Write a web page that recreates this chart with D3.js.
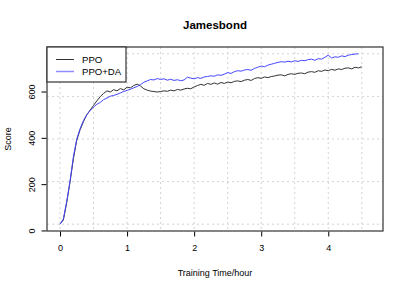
<!DOCTYPE html>
<html>
<head>
  <meta charset="utf-8">
  <title>Jamesbond</title>
  <script src="https://d3js.org/d3.v7.min.js"></script>
  <style>
    body { margin: 0; background: white; }
    text { font-family: "Liberation Sans", Arial, sans-serif; fill: black; }
  </style>
</head>
<body>
<div id="output"></div>
<script>
  // hours sampled every 0.05
  var ppoX = d3.range(0, 91).map(function(i){ return i * 0.05; });
  var ppoY = [27,45,120,210,310,390,435,470,500,520,540,560,578,592,603,598,608,603,613,607,
              619,616,626,632,624,612,606,602,600,598,600,603,601,606,603,609,606,611,614,612,
              620,626,631,627,635,631,637,632,639,635,641,638,644,646,643,649,652,648,656,660,
              657,663,660,665,667,671,672,668,674,677,674,679,680,677,684,686,683,690,687,693,
              690,696,692,698,695,701,702,698,705,702,707];
  var daX = d3.range(0, 90).map(function(i){ return i * 0.05; });
  var daY = [27,50,125,215,320,395,440,475,500,518,533,545,553,565,572,580,583,588,594,600,
             605,610,616,622,630,640,646,652,650,656,652,655,649,653,648,651,647,650,662,658,
             655,660,657,663,665,668,666,672,670,675,682,678,686,690,688,693,695,692,700,705,
             710,707,714,718,722,726,729,727,731,728,733,730,735,733,738,740,735,742,740,748,
             757,745,750,748,754,751,757,760,762,763];
  var seriesNames = ["PPO", "PPO+DA"];
  var seriesColors = ["#333333", "#4646ff"];
  var legendColors = ["#333333", "#8c8cff"];
  var xTicks = [0, 1, 2, 3, 4];
  var yTicks = [0, 200, 400, 600];

  var w = 407, h = 291;
  var box = {left: 47, right: 383, top: 47, bottom: 231};

  var x = d3.scaleLinear().domain([-0.194, 4.816]).range([box.left, box.right]);
  var y = d3.scaleLinear().domain([-2.4, 792.4]).range([box.bottom, box.top]);

  var svg = d3.select("#output").append("svg")
    .attr("width", w).attr("height", h);

  // grid lines, evenly spread over the data range
  var xGrid = d3.range(0, 10).map(function(i){ return i * 0.5; });
  var yMin = d3.min(ppoY.concat(daY)), yMax = d3.max(ppoY.concat(daY));
  var yGrid = d3.range(0, 5).map(function(i){ return yMin + i * (yMax - yMin) / 4; });

  svg.append("g").selectAll("line").data(xGrid).enter().append("line")
    .attr("x1", function(d){ return x(d); }).attr("x2", function(d){ return x(d); })
    .attr("y1", box.top).attr("y2", box.bottom)
    .attr("stroke", "#d3d3d3").attr("stroke-dasharray", "2,3");
  svg.append("g").selectAll("line").data(yGrid).enter().append("line")
    .attr("y1", function(d){ return y(d); }).attr("y2", function(d){ return y(d); })
    .attr("x1", box.left).attr("x2", box.right)
    .attr("stroke", "#d3d3d3").attr("stroke-dasharray", "2,3");

  var line = d3.line()
    .x(function(d){ return x(d[0]); })
    .y(function(d){ return y(d[1]); });

  svg.append("path")
    .datum(ppoX.map(function(v, i){ return [v, ppoY[i]]; }))
    .attr("d", line).attr("fill", "none")
    .attr("stroke", seriesColors[0]).attr("stroke-width", 1);
  svg.append("path")
    .datum(daX.map(function(v, i){ return [v, daY[i]]; }))
    .attr("d", line).attr("fill", "none")
    .attr("stroke", seriesColors[1]).attr("stroke-width", 1);

  // axes
  var xAxis = d3.axisBottom(x).tickValues(xTicks).tickFormat(d3.format("d"))
    .tickSize(5).tickPadding(8);
  var yAxis = d3.axisLeft(y).tickValues(yTicks).tickFormat(d3.format("d"))
    .tickSize(5).tickPadding(4);

  var gx = svg.append("g")
    .attr("transform", "translate(0," + (box.bottom + 0.5) + ")")
    .call(xAxis);
  gx.select(".domain").remove();
  gx.selectAll("text").attr("font-size", 9).attr("font-family", "Liberation Sans, Arial, sans-serif");

  var gy = svg.append("g")
    .attr("transform", "translate(" + (box.left - 0.5) + ",0)")
    .call(yAxis);
  gy.select(".domain").remove();
  gy.selectAll("text")
    .attr("font-size", 9).attr("font-family", "Liberation Sans, Arial, sans-serif")
    .attr("text-anchor", "middle")
    .attr("transform", "rotate(-90,-14,0)")
    .attr("x", -14).attr("dy", "0.32em");

  // plot box
  svg.append("rect")
    .attr("x", box.left).attr("y", box.top)
    .attr("width", box.right - box.left).attr("height", box.bottom - box.top)
    .attr("fill", "none").attr("stroke", "#333").attr("stroke-width", 1.2);

  // legend
  var leg = svg.append("g");
  leg.append("rect")
    .attr("x", box.left).attr("y", box.top)
    .attr("width", 79).attr("height", 35)
    .attr("fill", "white").attr("stroke", "#333").attr("stroke-width", 1.2);
  seriesNames.forEach(function(name, i){
    var ly = 59.5 + i * 12;
    leg.append("line")
      .attr("x1", 56).attr("x2", 74).attr("y1", ly).attr("y2", ly)
      .attr("stroke", legendColors[i]).attr("stroke-width", i === 1 ? 1.5 : 1);
    leg.append("text")
      .attr("x", 82).attr("y", ly + 3.3)
      .attr("font-size", 9.6)
      .text(name);
  });

  // titles
  svg.append("text")
    .attr("x", (box.left + box.right) / 2).attr("y", 29)
    .attr("text-anchor", "middle").attr("font-size", 11.5).attr("font-weight", "bold")
    .text("Jamesbond");
  svg.append("text")
    .attr("x", (box.left + box.right) / 2).attr("y", 276)
    .attr("text-anchor", "middle").attr("font-size", 9)
    .text("Training Time/hour");
  svg.append("text")
    .attr("transform", "translate(10.5," + ((box.top + box.bottom) / 2) + ") rotate(-90)")
    .attr("text-anchor", "middle").attr("font-size", 9)
    .text("Score");
</script>
</body>
</html>
